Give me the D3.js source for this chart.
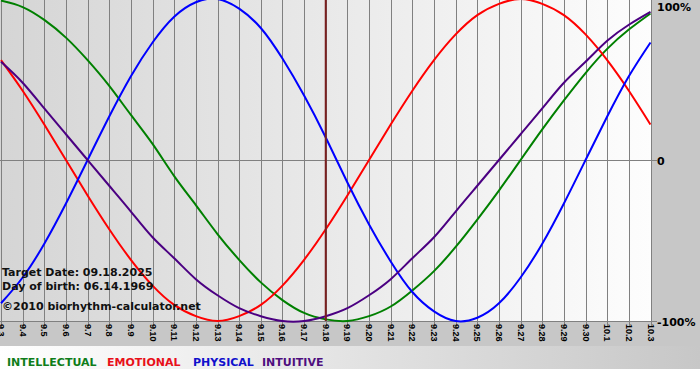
<!DOCTYPE html>
<html><head><meta charset="utf-8">
<script src="https://cdn.jsdelivr.net/npm/d3@7"></script>
<style>html,body{margin:0;padding:0;background:#fff;}svg{display:block;}</style>
</head><body>
<svg id="c" width="700" height="380"></svg>
<script>
const days = ["9.3","9.4","9.5","9.6","9.7","9.8","9.9","9.10","9.11","9.12","9.13","9.14","9.15","9.16","9.17","9.18","9.19","9.20","9.21","9.22","9.23","9.24","9.25","9.26","9.27","9.28","9.29","9.30","10.1","10.2","10.3"];
const intellectual = [0.99,0.95,0.87,0.76,0.62,0.46,0.28,0.10,-0.10,-0.28,-0.46,-0.62,-0.76,-0.87,-0.95,-0.99,-1.00,-0.97,-0.91,-0.81,-0.69,-0.54,-0.37,-0.19,0.00,0.19,0.37,0.54,0.69,0.81,0.91];
const emotional = [0.62,0.43,0.22,0.00,-0.22,-0.43,-0.62,-0.78,-0.90,-0.97,-1.00,-0.97,-0.90,-0.78,-0.62,-0.43,-0.22,0.00,0.22,0.43,0.62,0.78,0.90,0.97,1.00,0.97,0.90,0.78,0.62,0.43,0.22];
const physical = [-0.89,-0.73,-0.52,-0.27,0.00,0.27,0.52,0.73,0.89,0.98,1.00,0.94,0.82,0.63,0.40,0.14,-0.14,-0.40,-0.63,-0.82,-0.94,-1.00,-0.98,-0.89,-0.73,-0.52,-0.27,0.00,0.27,0.52,0.73];
const intuitive = [0.61,0.48,0.32,0.16,0.00,-0.16,-0.32,-0.48,-0.61,-0.74,-0.84,-0.92,-0.97,-1.00,-1.00,-0.97,-0.92,-0.84,-0.74,-0.61,-0.48,-0.32,-0.16,0.00,0.16,0.32,0.48,0.61,0.74,0.84,0.92];
const yTicks = [1, 0, -1];
const yTickLabels = ["100%", "0", "-100%"];
const targetDay = "9.18";
const infoLines = ["Target Date: 09.18.2025", "Day of birth: 06.14.1969", "\u00A92010 biorhythm-calculator.net"];
const legendNames = ["INTELLECTUAL", "EMOTIONAL", "PHYSICAL", "INTUITIVE"];

const colors = {line:["#008000","#ff0000","#0000ff","#4b0082"], text:["#0f7d1a","#e8101a","#1010cc","#4f0f7f"]};
const series = [intellectual, emotional, physical, intuitive];

const svg = d3.select("#c");
const W = 700, H = 380;
const plotL = 0, plotR = 651, plotT = 0, plotB = 321;

const defs = svg.append("defs");
const g1 = defs.append("linearGradient").attr("id","pg").attr("x1","0").attr("x2","1").attr("y1","0").attr("y2","0");
g1.append("stop").attr("offset","0").attr("stop-color","#d5d5d5");
g1.append("stop").attr("offset","1").attr("stop-color","#fdfdfd");
const g2 = defs.append("linearGradient").attr("id","lg").attr("x1","0").attr("x2","1").attr("y1","0").attr("y2","0");
g2.append("stop").attr("offset","0").attr("stop-color","#ffffff");
g2.append("stop").attr("offset","1").attr("stop-color","#c7c7c7");

svg.append("rect").attr("width",W).attr("height",H).attr("fill","#ffffff");
svg.append("rect").attr("width",W).attr("height",369).attr("fill","#c7c7c7");
svg.append("rect").attr("x",0).attr("y",346).attr("width",W).attr("height",23).attr("fill","url(#lg)");
svg.append("rect").attr("x",plotL).attr("y",plotT).attr("width",plotR-plotL).attr("height",plotB-plotT).attr("fill","url(#pg)");

const x = d3.scalePoint().domain(days).range([1, 650.5]);
const y = d3.scaleLinear().domain([-1, 1]).range([plotB, -1]);

// vertical grid
svg.append("g").selectAll("line").data(days).join("line")
  .attr("x1", d => Math.round(x(d)) + 0.5).attr("x2", d => Math.round(x(d)) + 0.5)
  .attr("y1", plotT).attr("y2", plotB + 6)
  .attr("stroke", "#808080").attr("stroke-width", 1);
// zero line & bottom
svg.append("line").attr("x1",plotL).attr("x2",plotR+6).attr("y1",Math.round(y(0))+0.5).attr("y2",Math.round(y(0))+0.5).attr("stroke","#808080");
svg.append("line").attr("x1",plotL).attr("x2",plotR+6).attr("y1",plotB+0.5).attr("y2",plotB+0.5).attr("stroke","#808080");

// x labels
svg.append("g").selectAll("text").data(days).join("text")
  .attr("transform", d => `translate(${Math.round(x(d))+0.5},${plotB+3}) rotate(90)`)
  .attr("dy", "0.35em")
  .attr("font-family", "Liberation Sans, Arial, sans-serif")
  .attr("font-weight", "bold").attr("font-size", 9).attr("fill", "#000")
  .text(d => d);

// y labels
svg.append("g").selectAll("text").data(yTicks).join("text")
  .attr("x", 657)
  .attr("y", d => Math.min(Math.max(y(d) + 5, 11), 326))
  .attr("font-family", "DejaVu Sans, Verdana, sans-serif")
  .attr("font-weight", "bold").attr("font-size", 11).attr("fill", "#000")
  .text((d, i) => yTickLabels[i]);

// curves
const line = d3.line().x((d, i) => x(days[i])).y(d => y(d)).curve(d3.curveNatural);
svg.append("g").selectAll("path").data(series).join("path")
  .attr("d", d => line(d)).attr("fill", "none")
  .attr("stroke", (d, i) => colors.line[i]).attr("stroke-width", 2);

// target line
svg.append("line").attr("x1", x(targetDay)).attr("x2", x(targetDay)).attr("y1", plotT).attr("y2", plotB)
  .attr("stroke", "#7a1f1f").attr("stroke-width", 2);

// info text
const infoY = [276, 290, 310];
svg.append("g").selectAll("text").data(infoLines).join("text")
  .attr("x", 2).attr("y", (d, i) => infoY[i])
  .attr("font-family", "DejaVu Sans, Verdana, sans-serif")
  .attr("font-weight", "bold").attr("font-size", 11).attr("fill", "#111")
  .text(d => d);

// legend
const legX = [7, 107, 193, 262];
svg.append("g").selectAll("text").data(legendNames).join("text")
  .attr("x", (d, i) => legX[i]).attr("y", 366)
  .attr("font-family", "DejaVu Sans, Verdana, sans-serif")
  .attr("font-weight", "bold").attr("font-size", 11)
  .attr("fill", (d, i) => colors.text[i])
  .text(d => d);
</script>
</body></html>
